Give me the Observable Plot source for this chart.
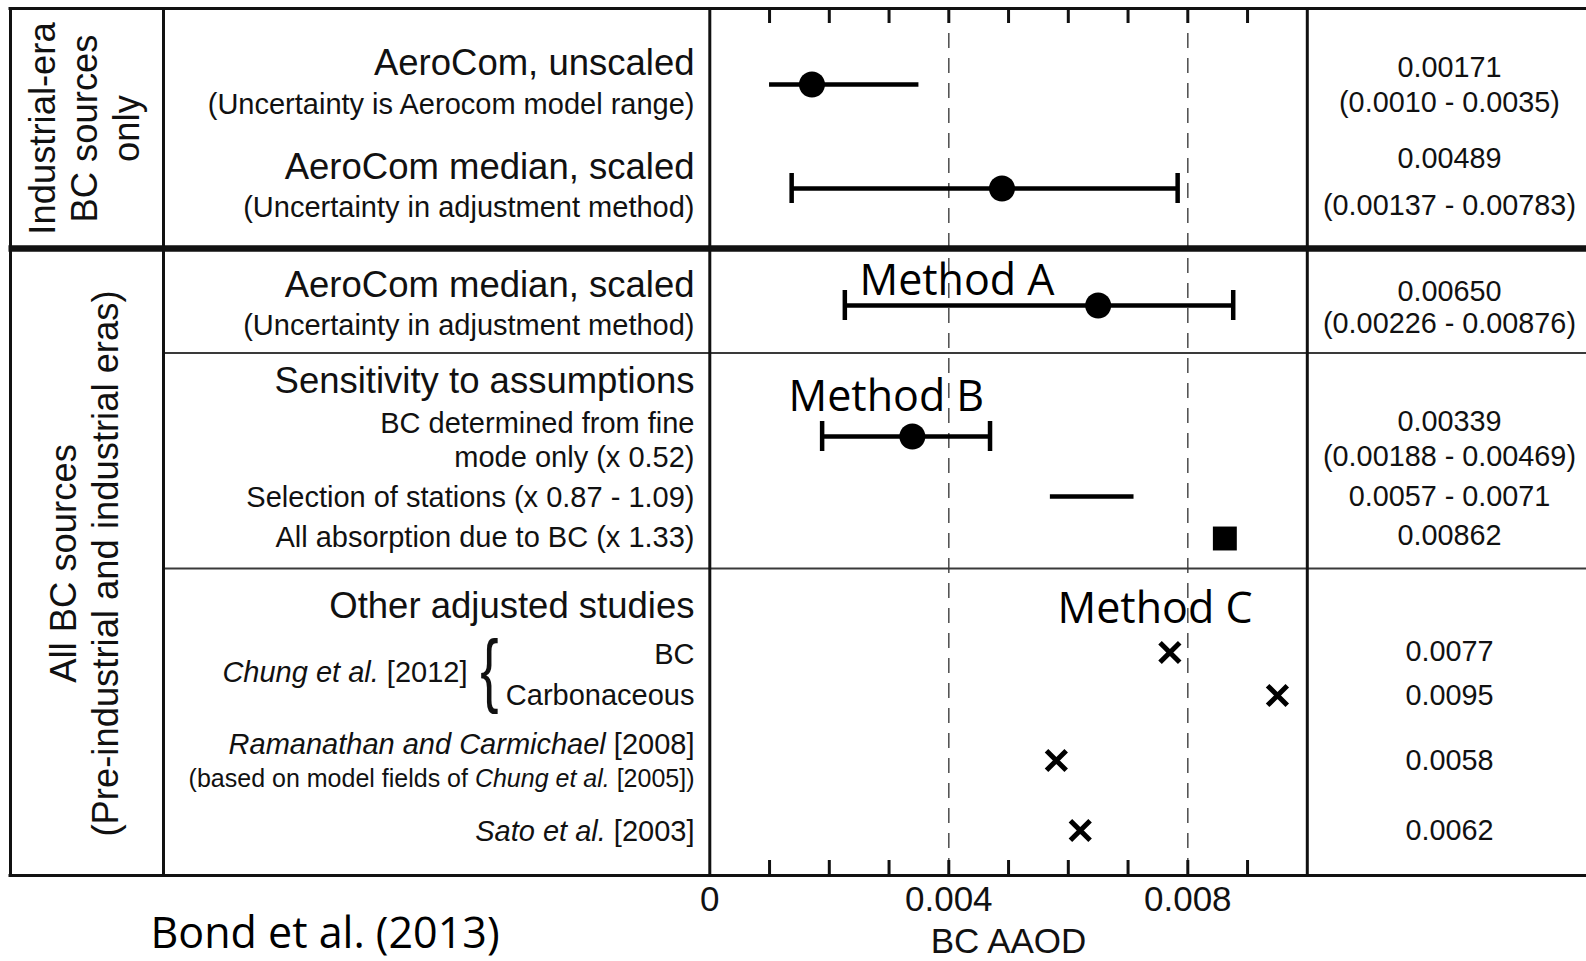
<!DOCTYPE html>
<html>
<head>
<meta charset="utf-8">
<script src="https://cdn.jsdelivr.net/npm/d3@7"></script>
<script src="https://cdn.jsdelivr.net/npm/@observablehq/plot@0.6"></script>
<style>
  html, body { margin: 0; padding: 0; background: #fff; }
  #chart svg { display: block; }
</style>
</head>
<body>
<div id="chart"></div>
<script>
// ---------------- DATA (BC AAOD estimates, Bond et al. 2013) ----------------
const estimateIds = ["aerocom-unscaled", "aerocom-scaled-ind", "aerocom-scaled-all", "fine-mode",
  "station-selection", "all-absorption", "chung-bc", "chung-carb", "ramanathan", "sato"];
const centralValue = [0.00171, 0.00489, 0.00650, 0.00339, null, 0.00862, 0.0077, 0.0095, 0.0058, 0.0062];
const lowerValue   = [0.0010, 0.00137, 0.00226, 0.00188, 0.0057, null, null, null, null, null];
const upperValue   = [0.0035, 0.00783, 0.00876, 0.00469, 0.0071, null, null, null, null, null];
const markerKind   = ["circle", "circle", "circle", "circle", "range", "square", "x", "x", "x", "x"];
const hasCaps      = [false, true, true, true, false, false, false, false, false, false];

// value column text
const valueTexts = ["0.00171", "(0.0010 - 0.0035)", "0.00489", "(0.00137 - 0.00783)",
  "0.00650", "(0.00226 - 0.00876)", "0.00339", "(0.00188 - 0.00469)", "0.0057 - 0.0071",
  "0.00862", "0.0077", "0.0095", "0.0058", "0.0062"];

// row label text (underscores mark italic parts)
const labelTexts = ["AeroCom, unscaled", "(Uncertainty is Aerocom model range)",
  "AeroCom median, scaled", "(Uncertainty in adjustment method)",
  "AeroCom median, scaled", "(Uncertainty in adjustment method)",
  "Sensitivity to assumptions", "BC determined from fine", "mode only (x 0.52)",
  "Selection of stations (x 0.87 - 1.09)", "All absorption due to BC (x 1.33)",
  "Other adjusted studies", "BC", "Carbonaceous",
  "_Ramanathan and Carmichael_ [2008]", "(based on model fields of _Chung et al._ [2005])",
  "_Sato et al._ [2003]"];
const chungLabel = "_Chung et al._ [2012]";
const groupLabels = ["Industrial-era\nBC sources\nonly", "All BC sources\n(Pre-industrial and industrial eras)"];
const methodLabels = ["Method A", "Method B", "Method C"];
const methodX = [0.002505, 0.001317, 0.00582];
const tickLabelValues = [0, 0.004, 0.008];
const tickLabelTexts = ["0", "0.004", "0.008"];
const minorTicks = [0.001, 0.002, 0.003, 0.004, 0.005, 0.006, 0.007, 0.008, 0.009];
const refLines = [0.004, 0.008];
const axisTitle = "BC AAOD";
const sourceNote = "Bond et al. (2013)";

// ---------------- LAYOUT (positions / sizes / styles) ----------------
const W = 1586, H = 961;
const xRange = [709.3, 1306.8];
const xs = d3.scaleLinear().domain([0, 0.01]).range(xRange);
const px = p => xs.invert(p);            // table furniture: layout pixel -> x units
const TOP = 8, BOTTOM = 875, DIVIDER = 248, THIN = [352.5, 568];
const rowY = [84, 188, 305, 436, 496, 538, 652, 695, 760, 830];
const valueY = [67, 102, 158, 205, 291.5, 323, 421.5, 456.5, 496.5, 535, 651.5, 695, 760, 830.5];
const labelY = [63, 104, 167, 207, 285, 325, 381, 423, 457, 497, 537, 606, 654, 695, 744, 778, 831];
const labelStyle = ["big", "small", "big", "small", "big", "small", "big", "small", "small", "small", "small",
  "big", "small", "small", "small", "note", "small"];
const sizeOf = {big: 36.5, small: 29, note: 25};
const methodY = [281, 397, 609];
const groupY = [128, 563];
const SANS = "Liberation Sans, Arial, Helvetica, sans-serif";
const CAL = "Open Sans, Lato, sans-serif";
const INK = "#111";

const rows = estimateIds.map((id, i) => ({
  id, c: centralValue[i], lo: lowerValue[i], hi: upperValue[i], kind: markerKind[i], cap: hasCaps[i], y: rowY[i]
}));
const rangeRows = rows.filter(d => d.lo != null);
const caps = rows.filter(d => d.cap).flatMap(d => [{v: d.lo, y: d.y}, {v: d.hi, y: d.y}]);
const values = valueTexts.map((t, i) => ({t, y: valueY[i]}));
const labels = labelTexts.map((t, i) => ({t, y: labelY[i], s: sizeOf[labelStyle[i]]}));
const methods = methodLabels.map((t, i) => ({t, x: methodX[i], y: methodY[i]}));
const groups = groupLabels.map((t, i) => ({t, y: groupY[i]}));
const tickLabels = tickLabelValues.map((v, i) => ({v, t: tickLabelTexts[i]}));

const plot = Plot.plot({
  width: W,
  height: H,
  marginLeft: 0, marginRight: 0, marginTop: 0, marginBottom: 0,
  style: {fontFamily: SANS, background: "#fff", color: INK},
  x: {domain: [0, 0.01], range: xRange, axis: null},
  y: {type: "linear", domain: [0, H], range: [0, H], axis: null},
  marks: [
    // reference dashed lines
    Plot.ruleX(refLines, {x: d => d, y1: TOP, y2: BOTTOM, stroke: "#555", strokeWidth: 1.6, strokeDasharray: "15,10"}),
    // table frame
    Plot.ruleY(THIN, {y: d => d, x1: px(163), x2: px(W), stroke: "#3a3a3a", strokeWidth: 1.8}),
    Plot.ruleY([TOP, BOTTOM], {y: d => d, x1: px(8.5), x2: px(W), stroke: INK, strokeWidth: 3}),
    Plot.ruleY([DIVIDER], {y: d => d, x1: px(8.5), x2: px(W), stroke: INK, strokeWidth: 6.5}),
    Plot.ruleX([px(10), px(163), 0, 0.01], {x: d => d, y1: TOP, y2: BOTTOM, stroke: INK, strokeWidth: 3}),
    // ticks (top and bottom, inward)
    Plot.ruleX(minorTicks, {x: d => d, y1: TOP, y2: TOP + 15, stroke: INK, strokeWidth: 3}),
    Plot.ruleX(minorTicks, {x: d => d, y1: BOTTOM - 15, y2: BOTTOM, stroke: INK, strokeWidth: 3}),
    Plot.text(tickLabels, {x: "v", y: 899, text: "t", fontSize: 35, fill: INK}),
    Plot.text([axisTitle], {x: 0.005, y: 941, text: d => d, fontSize: 35, fill: INK}),
    // uncertainty ranges
    Plot.ruleY(rangeRows, {y: "y", x1: "lo", x2: "hi", stroke: "#000", strokeWidth: 4.5}),
    Plot.ruleX(caps, {x: "v", y1: d => d.y - 15, y2: d => d.y + 15, stroke: "#000", strokeWidth: 4.5}),
    // central estimates
    Plot.dot(rows.filter(d => d.kind === "circle"), {x: "c", y: "y", r: 13, fill: "#000", stroke: "none"}),
    Plot.dot(rows.filter(d => d.kind === "square"), {x: "c", y: "y", r: 13.5, symbol: "square", fill: "#000", stroke: "none"}),
    Plot.dot(rows.filter(d => d.kind === "x"), {x: "c", y: "y", r: 9, symbol: "times", fill: "none", stroke: "#000", strokeWidth: 5}),
    // method annotations
    Plot.text(methods, {x: "x", y: "y", text: "t", textAnchor: "start", fontSize: 43, fontFamily: CAL, fill: "#000"}),
    // value column
    Plot.text(values, {x: 0.01, dx: 1449 - xRange[1], y: "y", text: "t", fontSize: 28.8, fill: INK}),
    // row labels
    Plot.text(labels, {x: 0, dx: 694 - xRange[0], y: "y", text: "t", textAnchor: "end", fontSize: d => d.s, fill: INK}),
    Plot.text([chungLabel], {x: 0, dx: 467 - xRange[0], y: 672, text: d => d, textAnchor: "end", fontSize: 29, fill: INK}),
    Plot.text(["{"], {x: 0, dx: 489 - xRange[0], y: 670, text: d => d, fontSize: 44, fill: INK}),
    // group labels (rotated)
    Plot.text(groups, {x: 0, dx: 83 - xRange[0], y: "y", text: "t", rotate: -90, fontSize: 36.4, lineHeight: 1.15, fill: INK}),
    // source note
    Plot.text([sourceNote], {x: 0, dx: 150 - xRange[0], y: 934, text: d => d, textAnchor: "start", fontSize: 43, fontFamily: CAL, fill: "#000"})
  ]
});

// italic segments and brace shaping
d3.select(plot).selectAll("text").each(function() {
  const t = this.textContent;
  if (t === "{") {
    const tr = this.getAttribute("transform") || "";
    this.setAttribute("transform", tr + " scale(1.25,1.85)");
    return;
  }
  if (this.childElementCount === 0 && t.includes("_")) {
    const parts = t.split("_");
    this.textContent = "";
    parts.forEach((p, i) => {
      if (!p) return;
      const ts = document.createElementNS("http://www.w3.org/2000/svg", "tspan");
      ts.textContent = p;
      if (i % 2 === 1) ts.setAttribute("font-style", "italic");
      this.appendChild(ts);
    });
  }
});

document.getElementById("chart").appendChild(plot);
</script>
</body>
</html>
